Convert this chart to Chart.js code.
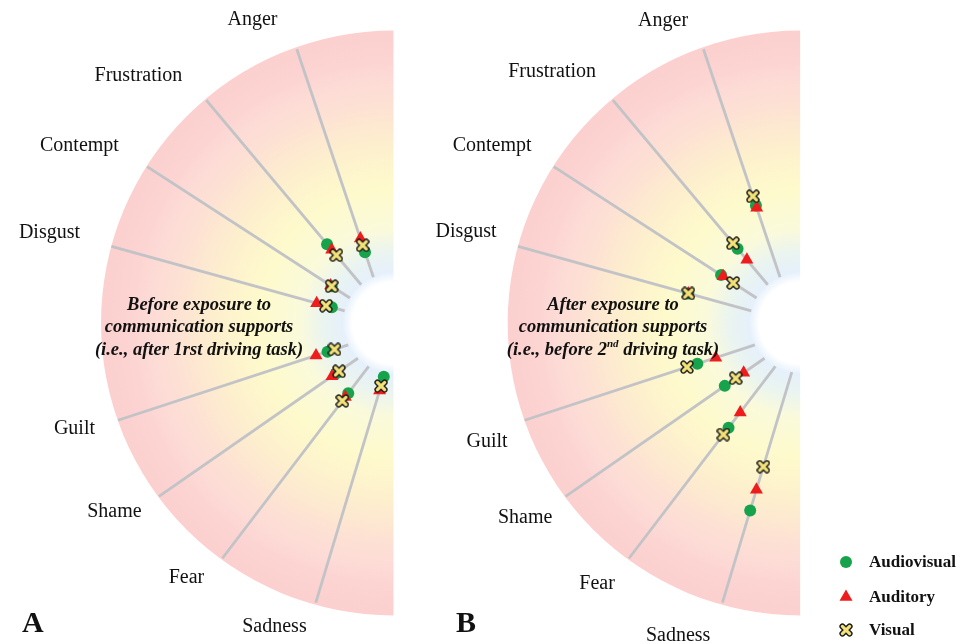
<!DOCTYPE html>
<html>
<head>
<meta charset="utf-8">
<script src="https://cdn.jsdelivr.net/npm/chart.js@4.4.0/dist/chart.umd.min.js"></script>
<style>
  html, body { margin: 0; padding: 0; background: #fff; }
  canvas { display: block; }
</style>
</head>
<body>
<canvas id="chart" width="974" height="644"></canvas>
<script>
const emotions = ["Anger", "Frustration", "Contempt", "Disgust", "Guilt", "Shame", "Fear", "Sadness"];
const seriesNames = ["Audiovisual", "Auditory", "Visual"];

// position read along each spoke: 0 = inner end near the hub, 1 = outer rim
const beforeAudiovisual = [0.11, 0.22, 0.09, 0.055, 0.09, 0.11, 0.14, 0.02];
const beforeAuditory    = [0.17, 0.19, 0.095, 0.12, 0.14, 0.13, 0.16, 0.08];
const beforeVisual      = [0.14, 0.16, 0.09, 0.08, 0.06, 0.095, 0.18, 0.06];
const afterAudiovisual  = [0.315, 0.195, 0.175, 0.27, 0.25, 0.20, 0.32, 0.60];
const afterAuditory     = [0.305, 0.135, 0.165, 0.27, 0.17, 0.105, 0.24, 0.51];
const afterVisual       = [0.355, 0.225, 0.115, 0.27, 0.295, 0.145, 0.355, 0.41];

// ---- layout (pixels / degrees), not data ----
const RIM = 297;                 // rim radius in px = 1 unit
const HUB = 0.172;               // where spokes start
const spokeInnerDeg = [23.5, 40, 60, 76, 116, 135, 150.5, 170.5];   // measured from top, going left
const spokeOuterDeg = [19.3, 39.8, 57.4, 74.7, 109.6, 126.7, 144.2, 164.6];
const panels = [
  { cx: 392, cy: 323, letter: "A",
    labelOff: [[-141,-303],[-255,-247],[-314,-177],[-344,-90],[-319,106],[-279,189],[-207,255],[-119,304]],
    title: ["Before exposure to", "communication supports", "(i.e., after 1rst driving task)"],
    titleX: 199, letterX: 22,
    values: [beforeAudiovisual, beforeAuditory, beforeVisual] },
  { cx: 805, cy: 323, letter: "B",
    labelOff: [[-137,-302],[-248,-251],[-308,-177],[-334,-91],[-313,119],[-275,195],[-203,261],[-122,313]],
    title: ["After exposure to", "communication supports", null],
    titleX: 613, letterX: 456,
    values: [afterAudiovisual, afterAuditory, afterVisual] }
];
const SERIF = "'Liberation Serif', 'Times New Roman', serif";
const TITLE_FONT = "bold italic 18.5px " + SERIF;

function makeCross(size) {
  const c = document.createElement("canvas");
  c.width = c.height = size;
  const g = c.getContext("2d");
  const a = 3.4, b = size - 3.4;
  g.lineCap = "round";
  [["#1a1a1a", 6], ["#f3e27a", 3.2]].forEach(([col, w]) => {
    g.strokeStyle = col; g.lineWidth = w;
    g.beginPath();
    g.moveTo(a, a); g.lineTo(b, b);
    g.moveTo(b, a); g.lineTo(a, b);
    g.stroke();
  });
  return c;
}
const crossImg = makeCross(14);

const markerStyles = [
  { pointStyle: "circle", radius: 6, color: "#16a34c", order: 3 },
  { pointStyle: "triangle", radius: 7.5, color: "#ee1c1c", order: 2 },
  { pointStyle: crossImg, radius: 7, color: "#f3e27a", order: 1 }
];

const rad = d => d * Math.PI / 180;
function polar(p, r, deg) {
  return { x: p.cx / RIM - r * Math.sin(rad(deg)), y: -p.cy / RIM + r * Math.cos(rad(deg)) };
}
function onSpoke(p, i, t) {
  const a = polar(p, HUB, spokeInnerDeg[i]);
  const b = polar(p, 1, spokeOuterDeg[i]);
  return { x: a.x + t * (b.x - a.x), y: a.y + t * (b.y - a.y) };
}

const datasets = [];
panels.forEach(p => {
  emotions.forEach((e, i) => {
    datasets.push({
      label: "spoke " + e,
      data: [onSpoke(p, i, 0), onSpoke(p, i, 1)],
      showLine: true,
      borderColor: "#c2c3c6",
      borderWidth: 2.8,
      pointRadius: 0,
      order: 10
    });
  });
});
seriesNames.forEach((name, s) => {
  const st = markerStyles[s];
  const pts = [];
  panels.forEach(p => p.values[s].forEach((t, i) => pts.push(onSpoke(p, i, t))));
  datasets.push({
    label: name,
    data: pts,
    pointStyle: st.pointStyle,
    pointRadius: st.radius,
    pointBackgroundColor: st.color,
    pointBorderColor: st.color,
    pointBorderWidth: 0,
    order: st.order
  });
});

const wheelPlugin = {
  id: "wheel",
  beforeDatasetsDraw(chart) {
    const { ctx, scales: { x, y } } = chart;
    panels.forEach(p => {
      const cx = x.getPixelForValue(p.cx / RIM);
      const cy = y.getPixelForValue(-p.cy / RIM);
      const R = x.getPixelForValue(p.cx / RIM + 1) - cx;
      const g = ctx.createRadialGradient(cx, cy, 0, cx, cy, R);
      g.addColorStop(0, "#ffffff");
      g.addColorStop(0.14, "#ffffff");
      g.addColorStop(0.175, "#e5f0fb");
      g.addColorStop(0.24, "#eaf4f0");
      g.addColorStop(0.32, "#fafadb");
      g.addColorStop(0.46, "#fefacc");
      g.addColorStop(0.6, "#fdf0cd");
      g.addColorStop(0.76, "#fde0d4");
      g.addColorStop(0.82, "#fddcd6");
      g.addColorStop(0.9, "#fcd4d2");
      g.addColorStop(1, "#fbd0cf");
      ctx.save();
      ctx.beginPath();
      ctx.moveTo(cx, cy);
      ctx.arc(cx, cy, R, Math.PI / 2, Math.PI * 1.5);
      ctx.closePath();
      ctx.fillStyle = g;
      ctx.fill();
      ctx.restore();
    });
  },
  afterDatasetsDraw(chart) {
    const { ctx, scales: { x, y } } = chart;
    ctx.save();
    ctx.fillStyle = "#111";
    ctx.textBaseline = "middle";
    panels.forEach(p => {
      const cx = x.getPixelForValue(p.cx / RIM);
      const cy = y.getPixelForValue(-p.cy / RIM);
      ctx.fillStyle = "#111";
      ctx.font = "20px " + SERIF;
      ctx.textAlign = "center";
      emotions.forEach((e, i) => {
        ctx.fillText(e, cx + p.labelOff[i][0], cy + p.labelOff[i][1]);
      });
      ctx.font = TITLE_FONT;
      p.title.forEach((line, k) => {
        if (line) ctx.fillText(line, p.titleX, 305 + k * 22.5);
      });
      if (!p.title[2]) {
        // third line of B, with a superscript
        const a = "(i.e., before 2", sup = "nd", b = " driving task)";
        const wa = ctx.measureText(a).width, wb = ctx.measureText(b).width;
        ctx.font = "bold italic 11px " + SERIF;
        const ws = ctx.measureText(sup).width;
        const left = p.titleX - (wa + ws + wb) / 2;
        const yy = 305 + 2 * 22.5;
        ctx.textAlign = "left";
        ctx.font = TITLE_FONT;
        ctx.fillText(a, left, yy);
        ctx.font = "bold italic 11px " + SERIF;
        ctx.fillText(sup, left + wa, yy - 6);
        ctx.font = TITLE_FONT;
        ctx.fillText(b, left + wa + ws, yy);
      }
      ctx.font = "bold 30px " + SERIF;
      ctx.textAlign = "left";
      ctx.fillText(p.letter, p.letterX, 624);
    });

    // legend
    const rows = [562, 597, 630];
    seriesNames.forEach((name, s) => {
      const st = markerStyles[s];
      ctx.fillStyle = st.color;
      ctx.strokeStyle = st.color;
      Chart.helpers.drawPoint(ctx, {
        pointStyle: st.pointStyle, radius: st.radius, borderWidth: 0, rotation: 0
      }, 846, rows[s]);
      ctx.fillStyle = "#111";
      ctx.font = "bold 17px " + SERIF;
      ctx.textAlign = "left";
      ctx.fillText(name, 869, rows[s] + 1);
    });
    ctx.restore();
  }
};

const ctx = document.getElementById("chart").getContext("2d");
new Chart(ctx, {
  type: "scatter",
  data: { datasets },
  options: {
    responsive: false,
    animation: false,
    devicePixelRatio: 1,
    layout: { padding: 0 },
    scales: {
      x: { type: "linear", display: false, min: 0, max: 974 / RIM },
      y: { type: "linear", display: false, min: -644 / RIM, max: 0 }
    },
    plugins: { legend: { display: false }, tooltip: { enabled: false } }
  },
  plugins: [wheelPlugin]
});
</script>
</body>
</html>
